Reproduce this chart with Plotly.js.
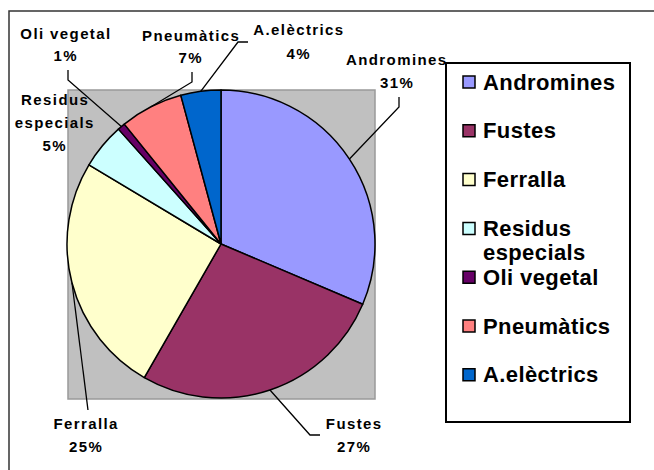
<!DOCTYPE html>
<html>
<head>
<meta charset="utf-8">
<script src="https://cdn.plot.ly/plotly-3.0.1.min.js"></script>
<style>
html,body{margin:0;padding:0;background:#fff;}
#chart{width:654px;height:470px;}
</style>
</head>
<body>
<div id="chart"></div>
<script>
// ---- data ----
const categories = ['Andromines','Fustes','Ferralla','Residus especials','Oli vegetal','Pneumàtics','A.elèctrics'];
const values = [31.4, 26.9, 25.3, 4.8, 0.8, 6.6, 4.2];
const colors = ['#9999FF','#993366','#FFFFCC','#CCFFFF','#660066','#FF8080','#0066CC'];
const legendLabels = ['Andromines','Fustes','Ferralla','Residus<br>especials','Oli vegetal','Pneumàtics','A.elèctrics'];
const pieLabelLines = [['Andromines'],['Fustes'],['Ferralla'],['Residus','especials'],['Oli vegetal'],['Pneumàtics'],['A.elèctrics']];

// ---- layout helpers (pixel positions) ----
const W = 654, H = 470;
const fx = x => x / W;
const fy = y => 1 - y / H;
const pieBox = {x0: 67, x1: 375, y0: 90, y1: 398};
// label anchor: centre x, first-line y; leader: start point, elbow point (or null)
const labelPos = [
  {x: 397, y: 60, start: [399, 97], elbow: [399, 107]},
  {x: 354, y: 423, start: [320, 435], elbow: [310, 435]},
  {x: 86, y: 423, start: [88, 410], elbow: null},
  {x: 55, y: 99, start: null, elbow: null},
  {x: 66, y: 33, start: [68, 70], elbow: [68, 80]},
  {x: 191, y: 35, start: [192, 72], elbow: [192, 82]},
  {x: 299, y: 30, start: [248, 42], elbow: [238, 42]}
];
const lineStep = 23;
const FONT = '"Liberation Sans", Arial, sans-serif';

const total = values.reduce((a, b) => a + b, 0);
const cx = (pieBox.x0 + pieBox.x1) / 2, cy = (pieBox.y0 + pieBox.y1) / 2;
const R = (pieBox.x1 - pieBox.x0) / 2;

const shapes = [];
const annotations = [];

// outer chart border
shapes.push({type: 'rect', xref: 'paper', yref: 'paper', x0: fx(9), x1: fx(720), y0: fy(11), y1: fy(520),
  line: {color: '#333', width: 1.5}, fillcolor: 'rgba(0,0,0,0)', layer: 'below'});
// grey plot area
shapes.push({type: 'rect', xref: 'paper', yref: 'paper', x0: fx(68), x1: fx(375), y0: fy(90), y1: fy(399),
  line: {color: '#999999', width: 1.5}, fillcolor: '#C0C0C0', layer: 'below'});

// pie labels + leader lines
let cum = 0;
values.forEach((v, i) => {
  const mid = (cum + v / 2) / total * 2 * Math.PI;
  cum += v;
  const ex = cx + R * Math.sin(mid), ey = cy - R * Math.cos(mid);
  const lp = labelPos[i];
  const lines = pieLabelLines[i].concat([Math.round(v / total * 100) + '%']);
  lines.forEach((t, k) => {
    annotations.push({xref: 'paper', yref: 'paper', x: fx(lp.x), y: fy(lp.y + k * lineStep),
      xanchor: 'center', yanchor: 'middle', text: t, showarrow: false, borderpad: 0, borderwidth: 0,
      font: {family: FONT, size: 15, color: '#000', weight: 'bold'}});
  });
  if (lp.start) {
    let p = `M${fx(lp.start[0])},${fy(lp.start[1])}`;
    if (lp.elbow) p += ` L${fx(lp.elbow[0])},${fy(lp.elbow[1])}`;
    p += ` L${fx(ex)},${fy(ey)}`;
    shapes.push({type: 'path', xref: 'paper', yref: 'paper', path: p, line: {color: '#000', width: 1.3}, layer: 'above'});
  }
});

// legend
const leg = {x0: 446, x1: 630, y0: 63, y1: 422, first: 82, step: 48.8, sq: 12, sqx: 463, tx: 483, lineH: 24};
shapes.push({type: 'rect', xref: 'paper', yref: 'paper', x0: fx(leg.x0), x1: fx(leg.x1), y0: fy(leg.y0), y1: fy(leg.y1),
  line: {color: '#000', width: 2}, fillcolor: '#fff', layer: 'above'});
categories.forEach((c, i) => {
  const yc = leg.first + i * leg.step;
  shapes.push({type: 'rect', xref: 'paper', yref: 'paper', x0: fx(leg.sqx), x1: fx(leg.sqx + leg.sq),
    y0: fy(yc - leg.sq / 2), y1: fy(yc + leg.sq / 2), line: {color: '#000', width: 1.5}, fillcolor: colors[i], layer: 'above'});
  const parts = legendLabels[i].split('<br>');
  parts.forEach((t, k) => {
    annotations.push({xref: 'paper', yref: 'paper', x: fx(leg.tx), y: fy(yc + k * leg.lineH),
      xanchor: 'left', yanchor: 'middle', align: 'left', text: t, showarrow: false, borderpad: 0, borderwidth: 0,
      font: {family: FONT, size: 22, color: '#000', weight: 'bold'}});
  });
});

const trace = {
  type: 'pie', labels: categories, values: values, sort: false, direction: 'clockwise', rotation: 0,
  marker: {colors: colors, line: {color: '#000', width: 1.5}},
  textinfo: 'none', hoverinfo: 'none', showlegend: false,
  domain: {x: [fx(pieBox.x0), fx(pieBox.x1)], y: [fy(pieBox.y1), fy(pieBox.y0)]}
};

const layout = {
  width: W, height: H, margin: {l: 0, r: 0, t: 0, b: 0},
  paper_bgcolor: '#fff', plot_bgcolor: '#fff', showlegend: false,
  shapes: shapes, annotations: annotations
};

Plotly.newPlot('chart', [trace], layout, {staticPlot: true, displayModeBar: false}).then(() => {
  document.querySelectorAll('.annotation-text').forEach(el => {
    const fs = parseFloat(el.style.fontSize);
    el.style.letterSpacing = fs < 18 ? '1.4px' : '0.4px';
  });
});
</script>
</body>
</html>
